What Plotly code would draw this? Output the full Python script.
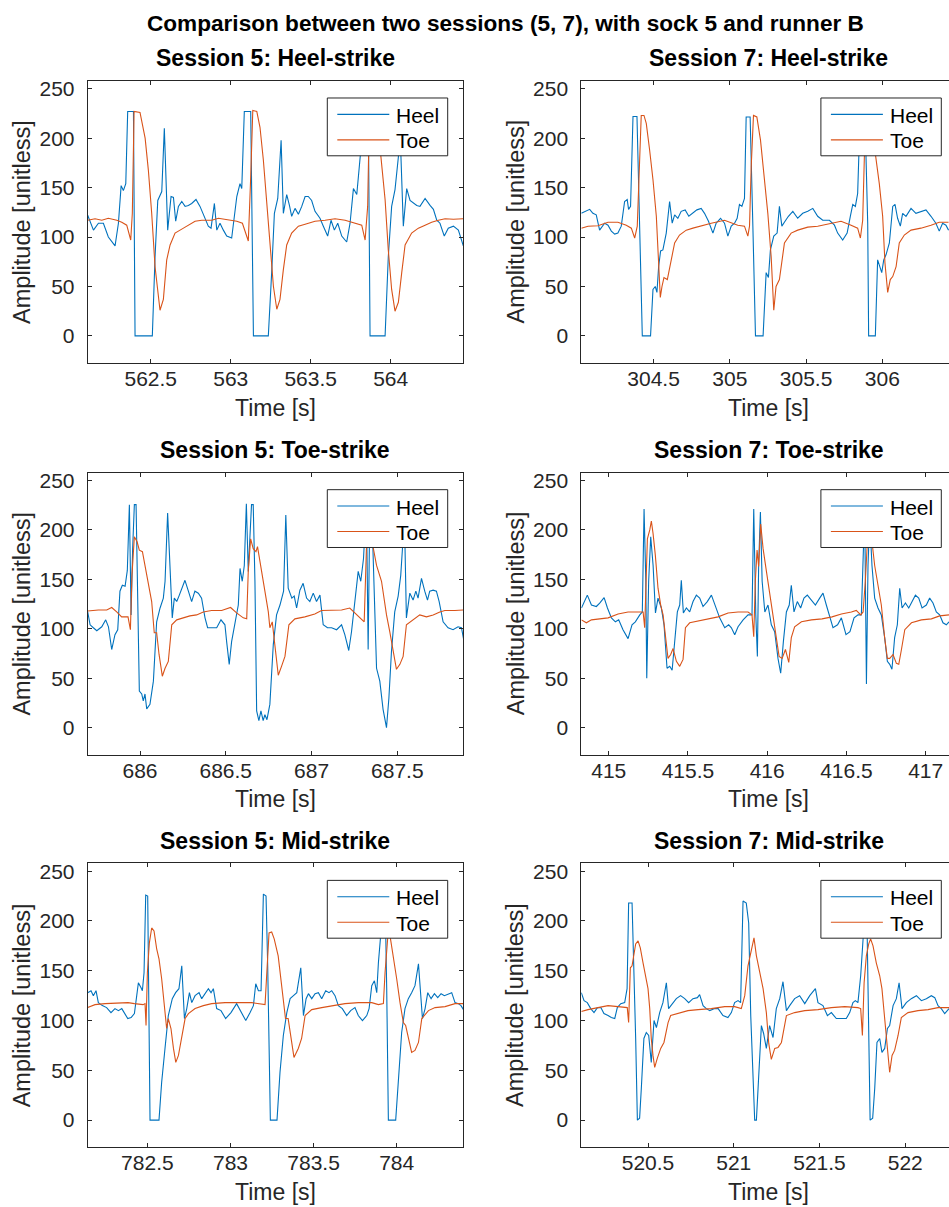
import plotly.graph_objects as go

# ---------------- data (time [s], amplitude [unitless]) ----------------
main_title = "Comparison between two sessions (5, 7), with sock 5 and runner B"
panel_titles = ["Session 5: Heel-strike", "Session 7: Heel-strike",
                "Session 5: Toe-strike", "Session 7: Toe-strike",
                "Session 5: Mid-strike", "Session 7: Mid-strike"]
series_names = ["Heel", "Toe"]

s5_heelstrike_heel = [(562.106,122),(562.142,107),(562.173,114),(562.204,114),(562.235,100),(562.277,91),(562.298,114),(562.315,152),(562.329,147),(562.344,154),(562.356,227),(562.392,227),(562.402,0),(562.510,0),(562.527,80),(562.544,137),(562.569,146),(562.585,210),(562.606,107),(562.627,141),(562.642,140),(562.656,116),(562.673,131),(562.694,136),(562.715,131),(562.735,132),(562.756,134),(562.783,138),(562.808,131),(562.835,121),(562.860,111),(562.877,109),(562.898,134),(562.913,107),(562.933,114),(562.954,107),(562.975,101),(563.006,99),(563.038,141),(563.058,154),(563.069,149),(563.085,227),(563.125,227),(563.142,0),(563.235,0),(563.256,64),(563.273,124),(563.294,139),(563.315,198),(563.329,124),(563.350,143),(563.367,132),(563.381,121),(563.402,129),(563.423,123),(563.444,131),(563.465,141),(563.485,141),(563.506,137),(563.527,126),(563.558,119),(563.579,111),(563.606,101),(563.627,117),(563.648,107),(563.669,114),(563.694,101),(563.725,95),(563.746,114),(563.767,149),(563.788,143),(563.802,168),(563.819,198),(563.835,227),(563.860,227),(563.871,0),(563.965,0),(563.985,80),(564.006,131),(564.027,148),(564.048,181),(564.058,210),(564.079,111),(564.100,149),(564.121,137),(564.142,134),(564.163,132),(564.183,131),(564.215,139),(564.246,132),(564.267,128),(564.288,117),(564.308,114),(564.335,101),(564.360,109),(564.392,111),(564.423,107),(564.454,91)]
s5_heelstrike_toe = [(562.106,117),(562.152,118.5),(562.194,117),(562.235,119),(562.288,117),(562.319,115),(562.350,112),(562.365,101),(562.375,97),(562.385,124),(562.396,227),(562.433,226),(562.465,200),(562.485,168),(562.506,124),(562.527,70),(562.544,42),(562.558,26),(562.579,37),(562.600,77),(562.621,92),(562.652,104),(562.694,108),(562.735,112),(562.777,116),(562.819,117),(562.881,117),(562.923,119),(562.985,117),(563.038,116),(563.073,114),(563.096,104),(563.110,96),(563.125,161),(563.138,228),(563.163,227),(563.183,211),(563.204,178),(563.225,134),(563.246,87),(563.267,50),(563.288,27),(563.308,37),(563.329,67),(563.350,92),(563.381,104),(563.423,111),(563.465,113),(563.527,116),(563.590,117),(563.652,118.5),(563.715,117),(563.777,114),(563.819,112),(563.840,97),(563.856,131),(563.867,227),(563.902,226),(563.933,191),(563.965,138),(563.985,87),(564.006,47),(564.027,25),(564.048,34),(564.069,64),(564.090,92),(564.131,104),(564.173,109),(564.215,112),(564.256,115),(564.298,117),(564.340,118.5),(564.392,118),(564.454,118.5)]

s7_heelstrike_heel = [(304.026,124),(304.059,126),(304.081,128),(304.102,124),(304.124,122.5),(304.146,107),(304.179,114),(304.201,112),(304.223,106),(304.245,103),(304.266,104),(304.288,111),(304.310,136),(304.327,138),(304.336,128),(304.349,131),(304.365,222),(304.391,222),(304.408,111),(304.426,0),(304.480,0),(304.496,47),(304.511,50),(304.522,44),(304.533,70),(304.546,86),(304.561,87),(304.583,104),(304.605,136),(304.622,114),(304.638,122.5),(304.659,119),(304.681,126),(304.707,127.5),(304.731,121),(304.758,124),(304.784,127.5),(304.812,129),(304.834,124),(304.860,116),(304.889,104),(304.910,114),(304.939,119),(304.965,114),(304.987,101),(305.009,111),(305.031,114),(305.048,119),(305.063,133),(305.079,131),(305.096,139),(305.107,221.5),(305.133,221.5),(305.151,111),(305.168,0),(305.218,0),(305.238,64),(305.253,59),(305.266,87),(305.288,101),(305.310,104),(305.325,131),(305.341,111),(305.362,116),(305.384,121),(305.413,126),(305.445,119),(305.478,124),(305.511,126),(305.544,129),(305.576,121),(305.609,117),(305.653,117),(305.686,112),(305.707,104),(305.740,97),(305.769,104),(305.790,121),(305.806,133),(305.823,131),(305.838,144),(305.849,198),(305.860,222),(305.886,222),(305.904,114),(305.910,0),(305.954,0),(305.969,77),(305.983,70),(305.996,64),(306.009,77),(306.024,82),(306.046,94),(306.068,131),(306.083,133),(306.100,119),(306.118,111),(306.133,124),(306.155,121),(306.188,129),(306.220,124),(306.253,126),(306.286,127.5),(306.319,121),(306.351,114),(306.373,106),(306.395,114),(306.417,112),(306.434,107)]
s7_heelstrike_toe = [(304.026,109),(304.070,111),(304.135,111.5),(304.201,115),(304.266,115),(304.321,112),(304.354,109),(304.376,99),(304.393,111),(304.404,164),(304.419,223),(304.437,223),(304.452,215),(304.474,188),(304.496,158),(304.518,121),(304.533,77),(304.544,39),(304.555,50),(304.568,59),(304.590,57),(304.616,77),(304.638,94),(304.670,102),(304.714,107),(304.758,109),(304.812,111.5),(304.878,114),(304.965,117),(305.052,112),(305.096,111),(305.118,101),(305.129,111),(305.140,171),(305.155,223),(305.177,221.5),(305.201,198),(305.223,164),(305.249,124),(305.271,80),(305.288,26),(305.303,50),(305.325,57),(305.358,94),(305.402,104),(305.445,107),(305.511,110),(305.576,111),(305.642,113),(305.729,116),(305.795,112),(305.838,109),(305.856,99),(305.871,117),(305.882,181),(305.899,223),(305.925,218),(305.958,181),(305.980,154),(306.002,121),(306.017,74),(306.035,44),(306.052,57),(306.068,60),(306.090,70),(306.111,94),(306.144,102),(306.188,107),(306.253,109),(306.319,112),(306.373,115),(306.434,115)]

s5_toestrike_heel = [(685.695,117),(685.709,104),(685.728,101),(685.748,98),(685.777,102),(685.800,109),(685.816,102),(685.835,79),(685.854,94),(685.870,99),(685.883,138),(685.897,144),(685.913,143),(685.926,159),(685.938,225.5),(685.948,114),(685.957,181),(685.967,225.5),(685.977,225.5),(685.986,148),(685.996,37),(686.010,34),(686.019,27),(686.029,34),(686.039,19),(686.058,23.5),(686.078,47),(686.097,107),(686.117,121),(686.136,131),(686.146,148),(686.161,217),(686.175,154),(686.188,111),(686.200,131),(686.214,127.5),(686.227,133),(686.243,141),(686.262,149),(686.282,138),(686.301,127.5),(686.320,138),(686.340,136),(686.359,131),(686.379,111),(686.394,101),(686.417,101),(686.447,101),(686.472,109),(686.495,104),(686.505,87),(686.520,64),(686.534,87),(686.557,109),(686.573,124),(686.583,161),(686.596,148),(686.608,164),(686.620,226.5),(686.631,158),(686.641,191),(686.650,225.5),(686.660,225.5),(686.670,148),(686.680,17),(686.693,7),(686.705,17),(686.718,7),(686.728,13),(686.740,8),(686.757,23.5),(686.777,84),(686.796,114),(686.816,124),(686.837,138),(686.850,215),(686.864,141),(686.885,131),(686.899,133),(686.913,121),(686.932,139),(686.951,146),(686.971,131),(686.990,127.5),(687.010,136),(687.029,127.5),(687.049,134),(687.068,104),(687.093,101),(687.117,101),(687.146,99),(687.175,104),(687.194,94),(687.217,78),(687.233,97),(687.252,127.5),(687.272,158),(687.287,148),(687.303,171),(687.311,198),(687.320,225.5),(687.330,79),(687.340,225.5),(687.350,225.5),(687.365,131),(687.379,60),(687.398,47),(687.417,18.5),(687.437,0),(687.451,30),(687.466,77),(687.485,117),(687.505,133),(687.520,154),(687.530,181),(687.540,225.5),(687.553,111),(687.573,136),(687.592,129),(687.608,138),(687.621,131),(687.641,151),(687.660,138),(687.676,129),(687.689,138),(687.709,139),(687.728,138),(687.744,127.5),(687.767,107),(687.796,101),(687.825,99),(687.854,102),(687.874,101),(687.887,89)]
s5_toestrike_toe = [(685.695,118),(685.757,119),(685.806,119),(685.835,121.5),(685.864,117),(685.893,112),(685.930,112),(685.944,99),(685.953,154),(685.967,193),(685.983,188),(685.996,179.5),(686.014,178),(686.029,164),(686.049,148),(686.068,127.5),(686.083,96),(686.097,96),(686.111,74),(686.130,52),(686.146,60),(686.165,67),(686.185,104),(686.214,109),(686.252,111),(686.291,113),(686.330,114),(686.369,117),(686.417,118.5),(686.476,118.5),(686.528,121.5),(686.563,116),(686.602,111),(686.622,110),(686.631,158),(686.645,191),(686.660,181),(686.676,178),(686.685,183),(686.705,164),(686.728,138),(686.748,117),(686.757,101),(686.771,107),(686.786,84),(686.806,53),(686.825,62),(686.845,72),(686.868,104),(686.903,110),(686.961,112),(687.019,115),(687.058,118.5),(687.117,118.5),(687.175,119),(687.223,121),(687.252,116),(687.282,111),(687.307,107),(687.320,181),(687.334,193),(687.353,188),(687.379,164),(687.408,148),(687.437,114),(687.456,97),(687.476,77),(687.495,59),(687.515,64),(687.534,72),(687.553,104),(687.592,109),(687.631,114),(687.670,112),(687.709,114),(687.748,117),(687.777,118.5),(687.835,118.5),(687.887,119)]

s7_toestrike_heel = [(414.828,121),(414.849,129),(414.865,134),(414.891,124),(414.922,122.5),(414.943,126),(414.971,131.5),(414.992,121),(415.017,111),(415.042,107),(415.063,109),(415.090,99),(415.122,90),(415.147,104),(415.168,107),(415.196,114),(415.212,117),(415.223,221),(415.234,148),(415.240,50),(415.252,148),(415.265,193),(415.280,164),(415.295,116),(415.311,131),(415.332,121),(415.349,104),(415.368,60),(415.385,62),(415.400,58),(415.416,91),(415.433,117),(415.448,124),(415.458,149),(415.471,116),(415.490,121),(415.511,117),(415.532,127.5),(415.553,134),(415.574,131),(415.595,122.5),(415.622,127.5),(415.648,134),(415.669,124),(415.700,111),(415.732,101),(415.757,104),(415.774,101),(415.795,94),(415.816,102),(415.848,109),(415.879,114),(415.904,114),(415.915,221),(415.928,114),(415.938,72),(415.946,164),(415.957,218),(415.968,148),(415.985,117),(416.005,124),(416.026,104),(416.047,97),(416.068,70),(416.085,55),(416.102,87),(416.121,117),(416.139,124),(416.152,144),(416.169,117),(416.190,127.5),(416.211,121),(416.232,131),(416.253,134),(416.279,129),(416.304,124),(416.331,131),(416.352,136),(416.373,124),(416.394,112),(416.415,101),(416.444,104),(416.468,111),(416.497,94),(416.522,97),(416.548,111),(416.573,114),(416.594,114),(416.609,181),(416.615,221),(416.626,44),(416.636,164),(416.647,211),(416.661,164),(416.678,131),(416.699,121),(416.720,114),(416.741,91),(416.758,67),(416.773,64),(416.787,59),(416.804,91),(416.821,104),(416.836,141),(416.851,121),(416.872,126),(416.893,121),(416.914,127.5),(416.935,134),(416.956,131),(416.977,121),(417.004,124),(417.025,131),(417.046,126),(417.067,117),(417.088,114),(417.109,106),(417.130,104),(417.147,107)]
s7_toestrike_toe = [(414.828,109),(414.859,106),(414.891,109),(414.933,110),(414.996,111),(415.059,115),(415.122,117),(415.185,117),(415.217,117),(415.227,101),(415.238,148),(415.244,191),(415.259,200),(415.269,209),(415.280,196),(415.294,174.5),(415.311,141),(415.328,124),(415.343,114),(415.358,91),(415.374,70),(415.391,74),(415.406,80),(415.427,67),(415.448,62),(415.469,69),(415.484,101),(415.511,106),(415.564,108),(415.627,110),(415.690,112),(415.753,116),(415.816,117),(415.879,117),(415.904,114),(415.915,92),(415.925,148),(415.936,179.5),(415.946,163),(415.959,206),(415.974,181),(415.995,158),(416.016,134),(416.037,114),(416.058,87),(416.075,72),(416.094,70),(416.115,79),(416.136,66),(416.152,91),(416.173,102),(416.216,107),(416.279,109),(416.346,110),(416.409,112),(416.468,115),(416.531,117),(416.562,118.5),(416.590,114),(416.605,117),(416.619,148),(416.632,188),(416.647,208),(416.661,188),(416.678,164),(416.699,144),(416.720,124),(416.741,91),(416.758,70),(416.773,70),(416.794,74),(416.815,65),(416.830,64),(416.847,79),(416.868,99),(416.910,106),(416.973,109),(417.036,110),(417.088,113),(417.147,114)]

s5_midstrike_heel = [(782.141,128),(782.161,130),(782.175,125),(782.191,130),(782.205,118),(782.229,115),(782.255,113),(782.281,108),(782.305,112),(782.326,110),(782.346,112),(782.362,108),(782.382,102),(782.402,103),(782.422,107),(782.436,125),(782.446,138),(782.462,133),(782.470,130),(782.480,148),(782.490,226),(782.502,225),(782.516,0),(782.570,0),(782.586,38),(782.606,72),(782.626,105),(782.650,122),(782.670,128),(782.690,132),(782.707,155),(782.723,102),(782.737,112),(782.753,128),(782.767,118),(782.787,125),(782.811,128),(782.827,122),(782.847,127),(782.867,132),(782.883,128),(782.897,132),(782.917,112),(782.943,110),(782.971,102),(783.003,108),(783.037,117),(783.068,108),(783.092,100),(783.118,108),(783.138,115),(783.152,137),(783.168,130),(783.184,130),(783.198,227),(783.214,225),(783.224,155),(783.240,0),(783.280,0),(783.298,48),(783.318,85),(783.339,108),(783.359,122),(783.379,125),(783.399,128),(783.423,153),(783.439,105),(783.455,122),(783.469,127),(783.489,122),(783.509,127),(783.529,128),(783.549,122),(783.573,130),(783.593,128),(783.609,130),(783.629,125),(783.649,115),(783.673,112),(783.699,105),(783.723,110),(783.749,113),(783.769,105),(783.794,100),(783.820,105),(783.834,112),(783.850,135),(783.866,140),(783.880,128),(783.890,158),(783.902,182),(783.910,226),(783.930,225),(783.940,132),(783.950,0),(783.994,0),(784.010,38),(784.030,88),(784.050,112),(784.070,122),(784.090,128),(784.110,135),(784.131,157),(784.155,102),(784.171,112),(784.187,128),(784.207,122),(784.227,127),(784.247,123),(784.267,127),(784.287,125),(784.311,127),(784.331,128),(784.351,118),(784.371,117),(784.387,115),(784.405,110)]
s5_midstrike_toe = [(782.141,113),(782.185,116),(782.245,117),(782.326,118),(782.384,118),(782.422,117),(782.474,116),(782.486,117),(782.492,95),(782.500,148),(782.512,178),(782.526,193),(782.540,190),(782.556,172),(782.570,162),(782.586,142),(782.602,118),(782.616,92),(782.626,102),(782.642,92),(782.657,72),(782.671,58),(782.687,65),(782.707,82),(782.727,102),(782.747,107),(782.787,112),(782.837,115),(782.887,117),(782.967,118),(783.048,118),(783.128,118),(783.208,116),(783.218,148),(783.232,188),(783.248,189),(783.263,182),(783.287,165),(783.311,132),(783.331,102),(783.347,102),(783.363,82),(783.382,63),(783.408,72),(783.428,82),(783.449,105),(783.489,111),(783.549,113),(783.609,115),(783.689,117),(783.770,118),(783.850,118),(783.890,116),(783.920,117),(783.930,148),(783.946,183),(783.960,185),(783.980,165),(784.000,142),(784.020,118),(784.040,98),(784.054,95),(784.070,82),(784.090,68),(784.110,70),(784.131,78),(784.151,102),(784.191,110),(784.231,113),(784.291,114),(784.351,117),(784.405,117)]

s7_midstrike_heel = [(520.111,128),(520.127,120),(520.146,118),(520.166,112),(520.185,108),(520.205,113),(520.225,113),(520.243,107),(520.267,105),(520.286,103),(520.306,102),(520.321,113),(520.341,117),(520.364,118),(520.378,132),(520.387,218),(520.407,218),(520.418,155),(520.428,82),(520.438,0),(520.451,2),(520.461,32),(520.476,82),(520.490,88),(520.504,85),(520.519,58),(520.535,100),(520.549,93),(520.568,108),(520.587,118),(520.607,138),(520.620,112),(520.640,117),(520.665,122),(520.690,125),(520.714,122),(520.737,118),(520.762,122),(520.788,123),(520.801,126),(520.821,115),(520.840,112),(520.860,110),(520.889,112),(520.909,112),(520.937,105),(520.966,103),(520.986,108),(521.005,118),(521.025,120),(521.040,118),(521.054,220),(521.073,218),(521.087,198),(521.099,105),(521.110,48),(521.122,0),(521.132,0),(521.145,48),(521.161,95),(521.174,87),(521.190,72),(521.209,95),(521.229,83),(521.248,112),(521.268,122),(521.287,139),(521.307,110),(521.326,115),(521.355,122),(521.384,125),(521.414,117),(521.443,125),(521.476,132),(521.491,118),(521.520,115),(521.546,105),(521.569,108),(521.598,102),(521.627,102),(521.656,102),(521.676,108),(521.695,118),(521.709,120),(521.724,118),(521.740,145),(521.754,182),(521.760,218),(521.775,218),(521.783,132),(521.795,0),(521.810,2),(521.822,32),(521.835,78),(521.851,82),(521.864,68),(521.880,72),(521.896,92),(521.909,95),(521.929,115),(521.948,122),(521.964,138),(521.981,112),(522.006,118),(522.035,122),(522.065,125),(522.094,120),(522.123,122),(522.152,125),(522.172,123),(522.191,115),(522.210,112),(522.230,107),(522.255,112)]
s7_midstrike_toe = [(520.111,109),(520.150,111),(520.208,113),(520.267,115),(520.325,114),(520.364,113),(520.379,113),(520.387,98),(520.397,153),(520.407,155),(520.418,165),(520.428,177),(520.442,180),(520.455,173),(520.471,158),(520.486,145),(520.500,132),(520.510,112),(520.519,82),(520.529,65),(520.539,53),(520.554,62),(520.574,72),(520.593,78),(520.617,98),(520.632,105),(520.675,107),(520.733,110),(520.792,111),(520.869,112),(520.947,114),(521.005,114),(521.044,112),(521.064,125),(521.083,155),(521.103,170),(521.118,183),(521.132,165),(521.151,148),(521.171,132),(521.190,108),(521.204,77),(521.219,61),(521.239,72),(521.258,73),(521.278,78),(521.307,105),(521.355,108),(521.414,110),(521.491,111),(521.569,113),(521.647,114),(521.724,113),(521.740,112),(521.750,85),(521.760,138),(521.773,165),(521.787,177),(521.798,182),(521.812,175),(521.831,158),(521.851,145),(521.864,132),(521.880,105),(521.896,72),(521.909,48),(521.923,65),(521.938,70),(521.958,85),(521.977,103),(522.016,108),(522.074,110),(522.133,111),(522.191,113),(522.255,113)]

heel_series = [s5_heelstrike_heel, s7_heelstrike_heel, s5_toestrike_heel,
               s7_toestrike_heel, s5_midstrike_heel, s7_midstrike_heel]
toe_series = [s5_heelstrike_toe, s7_heelstrike_toe, s5_toestrike_toe,
              s7_toestrike_toe, s5_midstrike_toe, s7_midstrike_toe]

x_limits = [[562.106, 564.452], [304.026, 306.437],
            [685.695, 687.883], [414.827, 417.147],
            [782.141, 784.399], [520.111, 522.255]]
y_limits = [-27.2, 257.8]
x_tick_values = [[562.5, 563, 563.5, 564], [304.5, 305, 305.5, 306],
                 [686, 686.5, 687, 687.5], [415, 415.5, 416, 416.5, 417],
                 [782.5, 783, 783.5, 784], [520.5, 521, 521.5, 522]]
y_tick_values = [0, 50, 100, 150, 200, 250]

# ---------------- styling / layout ----------------
W, H = 949, 1207
BLUE, ORANGE, AXC = "#0072BD", "#D95319", "#262626"
FONT = "Liberation Sans, Arial, Helvetica, sans-serif"
col_px = [(87.7, 463.0), (581.3, 949.0)]
row_px = [(77.3, 360.0), (470.3, 753.0), (862.3, 1147.0)]
AX_W = 375.3                      # full (unclipped) plot width in px
colors = [BLUE, ORANGE]


def fx(p):
    return p / W


def fy(p):
    return 1 - p / H


def fmt(v):
    return "%g" % v


fig = go.Figure()
annotations = []
shapes = []
layout = dict(width=W, height=H, margin=dict(l=0, r=0, t=0, b=0),
              paper_bgcolor="white", plot_bgcolor="white", showlegend=False,
              font=dict(family=FONT, color=AXC))

for i in range(6):
    r, c = divmod(i, 2)
    k = "" if i == 0 else str(i + 1)
    x0, x1 = col_px[c]
    y0, y1 = row_px[r]
    for name, data, color in ((series_names[0], heel_series[i], colors[0]),
                              (series_names[1], toe_series[i], colors[1])):
        t = [p[0] for p in data]
        v = [p[1] for p in data]
        fig.add_trace(go.Scatter(x=t, y=v, mode="lines", name=name,
                                 line=dict(color=color, width=1.1),
                                 xaxis="x" + k, yaxis="y" + k))
    layout["xaxis" + k] = dict(
        domain=[fx(x0), fx(x1)], range=x_limits[i], anchor="y" + k,
        tickvals=x_tick_values[i], ticktext=[fmt(v) for v in x_tick_values[i]],
        ticks="inside", ticklen=4, tickwidth=1, tickcolor=AXC,
        showline=True, linecolor=AXC, linewidth=1, mirror="ticks",
        showgrid=False, zeroline=False, ticklabelstandoff=-3,
        tickfont=dict(family=FONT, size=21, color=AXC))
    layout["yaxis" + k] = dict(
        domain=[fy(y1), fy(y0)], range=y_limits, anchor="x" + k,
        tickvals=y_tick_values, ticktext=[str(v) for v in y_tick_values],
        ticks="inside", ticklen=4, tickwidth=1, tickcolor=AXC,
        showline=True, linecolor=AXC, linewidth=1,
        mirror=("ticks" if c == 0 else False),
        showgrid=False, zeroline=False, ticklabelstandoff=8,
        tickfont=dict(family=FONT, size=21, color=AXC))

    # legend box (MATLAB style, drawn on top of the data)
    lx0, ly0 = x0 + 239.6, y0 + 17.0
    shapes.append(dict(type="rect", xref="paper", yref="paper",
                       x0=fx(lx0), x1=fx(lx0 + 120.4),
                       y0=fy(ly0 + 58.0), y1=fy(ly0),
                       line=dict(color=AXC, width=1), fillcolor="white",
                       layer="above"))
    for j, (name, color) in enumerate(zip(series_names, colors)):
        yy = ly0 + 16.4 + j * 25.6
        shapes.append(dict(type="line", xref="paper", yref="paper",
                           x0=fx(lx0 + 10), x1=fx(lx0 + 62), y0=fy(yy),
                           y1=fy(yy), line=dict(color=color, width=1.1),
                           layer="above"))
        annotations.append(dict(text=name, x=fx(lx0 + 67), y=fy(yy + 1),
                                xref="paper", yref="paper", xanchor="left",
                                yanchor="middle", showarrow=False,
                                font=dict(family=FONT, size=21,
                                          color="black")))

    cx = x0 + AX_W / 2
    # subplot title
    annotations.append(dict(text=panel_titles[i], x=fx(cx), y=fy(y0 - 23),
                            xref="paper", yref="paper", xanchor="center",
                            yanchor="middle", showarrow=False,
                            font=dict(family=FONT, size=23, color="black",
                                      weight="bold")))
    # x label
    annotations.append(dict(text="Time [s]", x=fx(cx), y=fy(y1 + 45),
                            xref="paper", yref="paper", xanchor="center",
                            yanchor="middle", showarrow=False,
                            font=dict(family=FONT, size=23, color=AXC)))
    # y label
    annotations.append(dict(text="Amplitude [unitless]", x=fx(x0 - 65.7),
                            y=fy((y0 + y1) / 2), xref="paper", yref="paper",
                            xanchor="center", yanchor="middle",
                            showarrow=False, textangle=-90,
                            font=dict(family=FONT, size=23.5, color=AXC)))

annotations.append(dict(text=main_title, x=fx(505.5), y=fy(20), xref="paper",
                        yref="paper", xanchor="center", yanchor="middle",
                        showarrow=False,
                        font=dict(family=FONT, size=22.6, color="black",
                                  weight="bold")))
layout["annotations"] = annotations
layout["shapes"] = shapes
fig.update_layout(**layout)
fig.write_html("out.html")
